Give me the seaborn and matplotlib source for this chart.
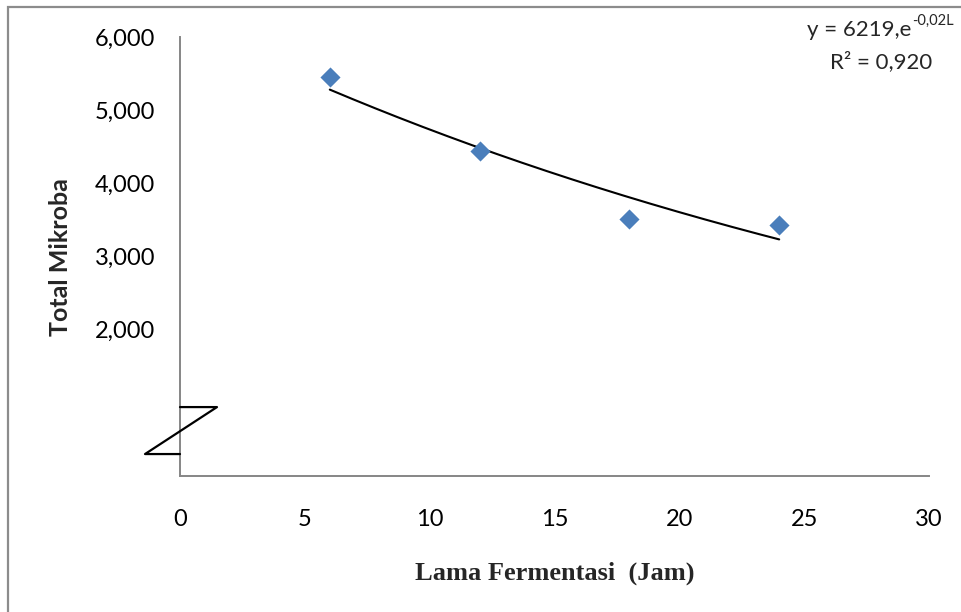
import numpy as np
import pandas as pd
import matplotlib
matplotlib.use("Agg")
import matplotlib.pyplot as plt
import seaborn as sns
from matplotlib.patches import Rectangle
from matplotlib.lines import Line2D

# ---- data ----
lama_jam = [6, 12, 18, 24]
total_mikroba = [5457, 4447, 3506, 3424]
trend_a = 6219.0          # from the displayed trendline equation
trend_b = -0.02725        # exponent (shown rounded as -0,02)
x_ticks = [0, 5, 10, 15, 20, 25, 30]
y_ticks = [2000, 3000, 4000, 5000, 6000]
y_tick_labels = ["2,000", "3,000", "4,000", "5,000", "6,000"]
equation_main = "y = 6219,e"
equation_sup = "-0,02L"
r2_text = "R² = 0,920"

sns.set_theme(style="white")
plt.rcParams['font.family'] = ['Lato', 'DejaVu Sans']

W, H = 962, 612
fig = plt.figure(figsize=(W / 100, H / 100), dpi=100)
fig.patch.set_facecolor("white")

ax_l, ax_r, ax_t, ax_b = 180, 929, 37, 476
ax = fig.add_axes([ax_l / W, 1 - ax_b / H, (ax_r - ax_l) / W, (ax_b - ax_t) / H])

df = pd.DataFrame({"x": lama_jam, "y": total_mikroba})
sns.scatterplot(data=df, x="x", y="y", ax=ax, marker="D", s=105,
                color="#4A7EBB", edgecolor="#4A7EBB", linewidth=0, zorder=3)

xs = np.linspace(min(lama_jam), max(lama_jam), 200)
trend = pd.DataFrame({"x": xs, "y": trend_a * np.exp(trend_b * xs)})
sns.lineplot(data=trend, x="x", y="y", ax=ax, color="black", linewidth=1.5, zorder=2)

ax.set_xlim(0, 30)
ax.set_ylim(0, 6000)
ax.set_xticks(x_ticks)
ax.set_xticklabels([str(t) for t in x_ticks])
ax.set_yticks(y_ticks)
ax.set_yticklabels(y_tick_labels)
ax.tick_params(axis="both", length=0, labelsize=17, colors="black")
ax.tick_params(axis="x", pad=24)
ax.tick_params(axis="y", pad=18)
ax.grid(False)
for s in ["top", "right"]:
    ax.spines[s].set_visible(False)
for s in ["left", "bottom"]:
    ax.spines[s].set_color("#868686")
    ax.spines[s].set_linewidth(1.4)

ax.set_xlabel("")
ax.set_ylabel("")
fig.text((ax_l + ax_r) / 2 / W, 1 - 573 / H, "Lama Fermentasi  (Jam)",
         family="Liberation Serif", fontweight="bold", fontsize=19,
         ha="center", va="center")
fig.text(61 / W, 1 - 257 / H, "Total Mikroba", rotation=90,
         fontweight="bold", fontsize=18, ha="center", va="center")

# axis break symbol
bx = [0.0, 37 / 749, -35 / 749, 0.0]
by = [0.157, 0.157, 0.050, 0.050]
ax.add_line(Line2D(bx, by, transform=ax.transAxes, color="black",
                   linewidth=1.6, clip_on=False, zorder=4))

# trendline equation
t_main = fig.text(807 / W, 1 - 30 / H, equation_main, fontsize=16, ha="left", va="center")
ax.annotate(equation_sup, xy=(1, 0.62), xycoords=t_main, xytext=(0.5, 0),
            textcoords="offset points", fontsize=10.5, ha="left", va="bottom")
fig.text(881 / W, 1 - 62 / H, r2_text, fontsize=16, ha="center", va="center")

# outer frame (left & top visible)
fig.add_artist(Rectangle((8 / W, -0.2), 1.3, 1.2 - 7 / H, transform=fig.transFigure,
                         fill=False, edgecolor="#8c8c8c", linewidth=1.6))

fig.savefig("out.png", dpi=100, facecolor="white")
